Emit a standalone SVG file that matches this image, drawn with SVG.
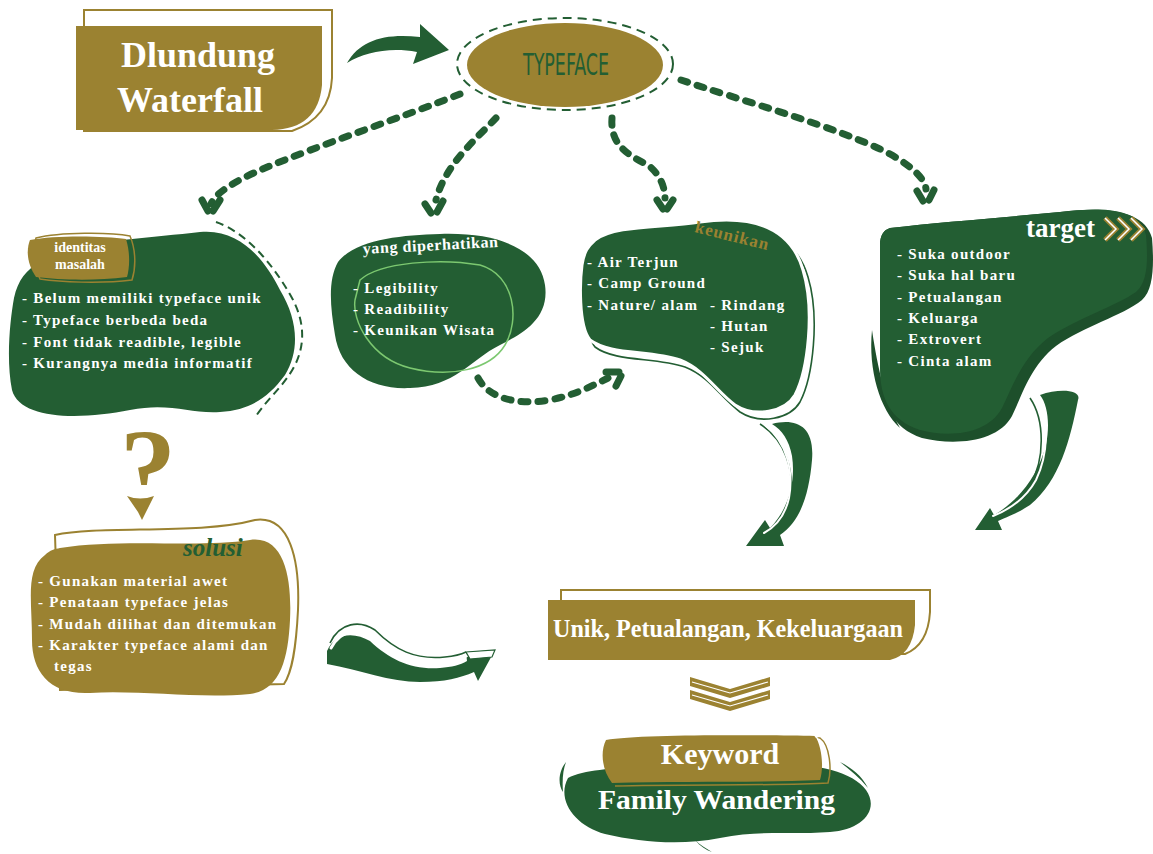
<svg xmlns="http://www.w3.org/2000/svg" width="1153" height="854" viewBox="0 0 1153 854">
<style>
.g{fill:#235e33}
.au{fill:#9b8231}
.bul{font-family:"Liberation Serif",serif;font-weight:bold;font-size:15px;fill:#fff;letter-spacing:1.3px}
.dash{fill:none;stroke:#235e33;stroke-width:7;stroke-linecap:round;stroke-dasharray:7 10}
.arm{fill:none;stroke:#235e33;stroke-width:7;stroke-linecap:round}
.disp{font-family:"Liberation Serif",serif;font-weight:bold;fill:#fff}
.wl{fill:none;stroke:#fff;stroke-width:3;stroke-linecap:round}
.gl{fill:none;stroke:#235e33;stroke-width:1.6}
.aul{fill:#fff;stroke:#9b8231;stroke-width:2}
</style>
<rect width="1153" height="854" fill="#fff"/>

<!-- Title -->
<g id="title">
  <path class="aul" d="M84,10 H332 V78 Q330,118 292,131 H84 Z"/>
  <path class="au" d="M76,26 H322 V85 Q318,129 272,130 H76 Z"/>
  <text class="disp" x="198" y="67" font-size="36" text-anchor="middle">Dlundung</text>
  <text class="disp" x="190" y="112" font-size="36" text-anchor="middle">Waterfall</text>
</g>

<!-- Typeface -->
<g id="typeface">
  <ellipse cx="565" cy="64" rx="108" ry="46" fill="none" stroke="#235e33" stroke-width="2" stroke-dasharray="9 6"/>
  <ellipse cx="565" cy="65" rx="98" ry="42" class="au"/>
  <text x="566" y="75" font-family="'Liberation Sans Narrow','DejaVu Sans Condensed',sans-serif" font-size="31" fill="#235e33" text-anchor="middle" textLength="86" lengthAdjust="spacingAndGlyphs">TYPEFACE</text>
</g>

<!-- Connectors -->
<g id="connectors">
  <path class="g" d="M347,63 C360,40 385,33 420,37 L420,24 L449,50 L413,64 L417,52 C390,47 365,52 347,63 Z"/>
  <path class="dash" d="M460,94 C400,118 320,145 265,168 C232,182 215,194 211,204"/>
  <path class="arm" d="M202,200 L208,211 M220,200 L213,211"/>
  <path class="dash" d="M496,118 C475,140 445,165 436,200"/>
  <path class="arm" d="M425,204 L431,213 M443,201 L437,212"/>
  <path class="dash" d="M612,118 C610,145 628,155 648,165 C662,176 665,190 665,198"/>
  <path class="arm" d="M657,200 L663,209 M673,200 L667,209"/>
  <path class="dash" d="M681,80 C740,100 840,128 890,154 C915,168 925,180 926,189"/>
  <path class="arm" d="M917,191 L923,201 M934,190 L929,200"/>
  <path class="dash" d="M478,378 C490,400 520,405 550,400 C575,395 592,386 608,378"/>
  <path class="arm" d="M606,372 L619,372 M616,386 L621,376"/>

  <!-- arrow below keunikan -->
  <path class="gl" d="M760,424 C785,440 795,470 790,500 C786,520 770,532 752,540"/>
  <path class="g" d="M772,424 C795,418 815,425 812,460 C809,495 800,522 780,535 L784,546 L746,546 L765,520 L770,528 C788,510 796,482 792,456 C789,440 782,430 772,424 Z"/>
  <path class="wl" style="stroke-width:2" d="M766,426 C786,442 794,470 789,498 C785,516 775,527 764,533"/>

  <!-- arrow below target -->
  <path class="gl" d="M1030,398 C1045,420 1045,460 1030,485 C1018,505 1000,515 985,522"/>
  <path class="g" d="M1040,395 C1060,388 1082,390 1078,400 C1070,440 1060,480 1030,505 C1018,513 1005,518 998,521 L1002,530 L975,530 L990,508 L994,515 C1020,500 1038,475 1046,445 C1050,425 1048,405 1040,395 Z"/>
  <path class="wl" style="stroke-width:2" d="M1037,397 C1050,420 1048,455 1036,480 C1025,500 1008,510 993,516"/>

  <!-- S arrow -->
  <path class="gl" d="M330,643 C340,622 360,620 375,630 C395,650 415,660 445,657 C456,656 462,654 466,652"/>
  <path class="g" d="M327,651 C335,632 355,632 370,641 C390,660 412,670 440,668 C452,667 460,665 467,661 L466,652 L495,650 L478,681 L474,672 C460,678 445,682 420,682 C390,682 360,670 327,664 Z"/>
  <path class="wl" d="M331,648 C341,629 359,628 372,637 C392,655 415,667 445,663 C456,661 463,658 468,655"/>
  <path d="M466,652 L495,650 L492,657 L470,659 Z" fill="#fff" stroke="#235e33" stroke-width="1.2"/>

  <!-- double chevron -->
  <path class="au" d="M690,677 L730,689 L770,677 L770,686 L730,698 L690,686 Z"/>
  <path d="M692,682 L730,693 L768,682" fill="none" stroke="#fff" stroke-width="1.2"/>
  <path class="au" d="M690,690 L730,702 L770,690 L770,699 L730,711 L690,699 Z"/>
  <path d="M692,695 L730,706 L768,695" fill="none" stroke="#fff" stroke-width="1.2"/>
</g>

<!-- Identitas masalah -->
<g id="identitas">
  <path d="M216,222 C245,232 272,262 292,298 C305,322 305,345 295,365 C285,385 268,398 256,416" fill="none" stroke="#235e33" stroke-width="2" stroke-dasharray="8 5"/>
  <path class="g" d="M40,262 C80,240 150,238 200,232 C240,228 265,260 280,290 C298,320 300,350 285,375 C268,398 250,410 220,412 C190,414 170,402 130,410 C80,420 20,420 12,390 C6,360 10,320 14,298 C18,280 26,270 40,262 Z"/>
  <path class="aul" style="fill:none;stroke-width:1.5" d="M36,238 C60,232 110,232 130,236 C136,250 136,268 132,280 C100,284 60,282 40,279 C34,265 32,248 36,238 Z"/>
  <path class="au" d="M30,240 C55,235 105,236 126,239 C130,252 130,266 127,277 C95,281 60,280 36,277 C27,264 26,250 30,240 Z"/>
  <text class="disp" x="80" y="252" font-size="14" text-anchor="middle">identitas</text>
  <text class="disp" x="80" y="269" font-size="14" text-anchor="middle">masalah</text>
  <text class="bul" x="22" y="303">- Belum memiliki typeface unik</text>
  <text class="bul" x="22" y="325">- Typeface berbeda beda</text>
  <text class="bul" x="22" y="347">- Font tidak readible, legible</text>
  <text class="bul" x="22" y="368">- Kurangnya media informatif</text>
</g>

<!-- Question mark -->
<g id="question">
  <text x="148" y="506" font-family="'Liberation Serif',serif" font-weight="bold" font-size="112" class="au" text-anchor="middle">?</text>
  <rect x="115" y="489" width="60" height="22" fill="#fff"/>
  <path class="au" d="M127,496 Q140,501 154,496 L146,512 L142,520 L138,512 Z"/>
</g>

<!-- Yang diperhatikan -->
<g id="diperhatikan">
  <path class="g" d="M338,262 C355,240 400,235 440,234 C500,232 540,250 545,285 C550,320 520,335 500,345 C470,360 455,387 410,388 C370,390 340,370 335,335 C330,305 328,280 338,262 Z"/>
  <path d="M335,362 C345,378 360,390 385,394" fill="none" stroke="#fff" stroke-width="2.5"/>
  <path d="M360,280 C380,262 440,258 480,265 C515,275 520,320 505,345 C490,370 450,378 410,368 C370,358 352,320 355,300 Z" fill="none" stroke="#7cc870" stroke-width="1.5"/>
  <text class="disp" x="363" y="254" font-size="16" letter-spacing="0.6" transform="rotate(-3 363 254)">yang diperhatikan</text>
  <text class="bul" x="353" y="293">- Legibility</text>
  <text class="bul" x="353" y="314">- Readibility</text>
  <text class="bul" x="353" y="335">- Keunikan Wisata</text>
</g>

<!-- Keunikan -->
<g id="keunikan">
  <path class="gl" transform="translate(5,7)" d="M595,240 C615,225 660,228 700,222 C750,215 790,225 803,270 C815,310 808,370 795,395 C785,412 755,418 735,405 C715,390 705,370 680,360 C650,350 610,355 590,340 C578,325 580,280 582,265 C584,252 588,246 595,240 Z"/>
  <path class="g" stroke="#fff" stroke-width="3" d="M595,240 C615,225 660,228 700,222 C750,215 790,225 803,270 C815,310 808,370 795,395 C785,412 755,418 735,405 C715,390 705,370 680,360 C650,350 610,355 590,340 C578,325 580,280 582,265 C584,252 588,246 595,240 Z"/>
  <text x="694" y="232" font-family="'Liberation Serif',serif" font-weight="bold" font-size="17" letter-spacing="1" class="au" transform="rotate(14 694 232)">keunikan</text>
  <text class="bul" x="587" y="267">- Air Terjun</text>
  <text class="bul" x="587" y="288">- Camp Ground</text>
  <text class="bul" x="587" y="310">- Nature/ alam</text>
  <text class="bul" x="710" y="310">- Rindang</text>
  <text class="bul" x="710" y="331">- Hutan</text>
  <text class="bul" x="710" y="352">- Sejuk</text>
</g>

<!-- Target -->
<g id="target">
  <path d="M872,330 C868,370 880,410 900,428 C885,400 878,370 872,330 Z" fill="#1d4f2b"/>
  <path fill="#1d4f2b" d="M890,228 C940,222 1000,218 1060,212 C1110,206 1145,212 1152,238 C1154,262 1154,290 1142,300 C1122,316 1084,326 1056,346 C1030,366 1022,396 1012,416 C998,442 955,446 922,438 C892,428 882,404 882,372 L880,245 C880,235 884,230 890,228 Z"/>
  <path class="g" d="M890,228 C940,222 1000,218 1060,212 C1110,206 1140,210 1146,235 C1148,260 1148,282 1136,292 C1116,306 1078,318 1048,338 C1022,358 1012,388 1002,408 C988,434 950,438 920,430 C890,420 880,398 880,368 L880,245 C880,235 884,230 890,228 Z"/>
  <text class="disp" x="1026" y="237" font-size="27">target</text>
  <g fill="none" stroke-linejoin="miter">
    <path d="M1105,218 L1116,229 L1105,240" stroke="#9b8231" stroke-width="5"/>
    <path d="M1118,218 L1129,229 L1118,240" stroke="#9b8231" stroke-width="5"/>
    <path d="M1131,218 L1142,229 L1131,240" stroke="#9b8231" stroke-width="5"/>
    <path d="M1105,218 L1116,229 L1105,240 M1118,218 L1129,229 L1118,240 M1131,218 L1142,229 L1131,240" stroke="#fff" stroke-width="1.5"/>
  </g>
  <text class="bul" x="897" y="259">- Suka outdoor</text>
  <text class="bul" x="897" y="280">- Suka hal baru</text>
  <text class="bul" x="897" y="302">- Petualangan</text>
  <text class="bul" x="897" y="323">- Keluarga</text>
  <text class="bul" x="897" y="344">- Extrovert</text>
  <text class="bul" x="897" y="366">- Cinta alam</text>
</g>

<!-- Solusi -->
<g id="solusi">
  <path class="aul" d="M55,535 C100,525 200,535 255,520 C290,515 300,560 298,610 C296,650 292,672 284,684 L60,690 Z"/>
  <path class="au" d="M60,548 C120,538 200,548 250,540 C285,535 292,580 290,620 C288,660 280,690 250,694 C200,699 140,690 90,693 C50,695 32,672 32,640 C32,600 25,570 45,555 C50,550 55,549 60,548 Z"/>
  <text x="183" y="556" font-family="'Liberation Serif',serif" font-weight="bold" font-style="italic" font-size="25" fill="#235e33">solusi</text>
  <text class="bul" x="38" y="586">- Gunakan material awet</text>
  <text class="bul" x="38" y="607">- Penataan typeface jelas</text>
  <text class="bul" x="38" y="629">- Mudah dilihat dan ditemukan</text>
  <text class="bul" x="38" y="650">- Karakter typeface alami dan</text>
  <text class="bul" x="54" y="671">tegas</text>
</g>

<!-- Unik box -->
<g id="unik">
  <path class="aul" d="M561,590 H930 V612 Q928,645 905,654 H561 Z"/>
  <path class="au" d="M548,600 H915 V625 Q912,655 890,660 H548 Z"/>
  <text class="disp" x="553" y="637" font-size="26" textLength="350" lengthAdjust="spacingAndGlyphs">Unik, Petualangan, Kekeluargaan</text>
</g>

<!-- Keyword -->
<g id="keyword">
  <path class="g" d="M568,778 C600,762 680,770 740,765 C800,760 850,768 866,790 C880,810 862,830 830,832 C790,835 760,830 720,838 C680,846 640,842 605,834 C575,826 556,800 568,778 Z"/>
  <path d="M566,762 C558,772 558,785 563,792 C562,780 563,770 566,762 Z M840,762 C852,768 862,776 868,788 C860,778 850,770 840,762 Z M695,840 C700,846 706,850 712,852 C706,848 700,845 695,840 Z" class="g"/>
  <path d="M608,742 C640,736 760,738 820,738 C830,745 832,770 828,783 C780,786 680,784 615,786" fill="none" stroke="#9b8231" stroke-width="1.5"/>
  <path class="au" d="M606,740 C640,734 760,735 815,736 C822,746 824,768 820,780 C760,783 680,781 612,783 C602,770 600,752 606,740 Z"/>
  <path d="M815,736 C822,742 826,752 824,762" fill="none" stroke="#fff" stroke-width="1.5"/>
  <text class="disp" x="720" y="764" font-size="30" text-anchor="middle">Keyword</text>
  <text class="disp" x="598" y="809" font-size="28" textLength="237" lengthAdjust="spacingAndGlyphs">Family Wandering</text>
</g>
</svg>
